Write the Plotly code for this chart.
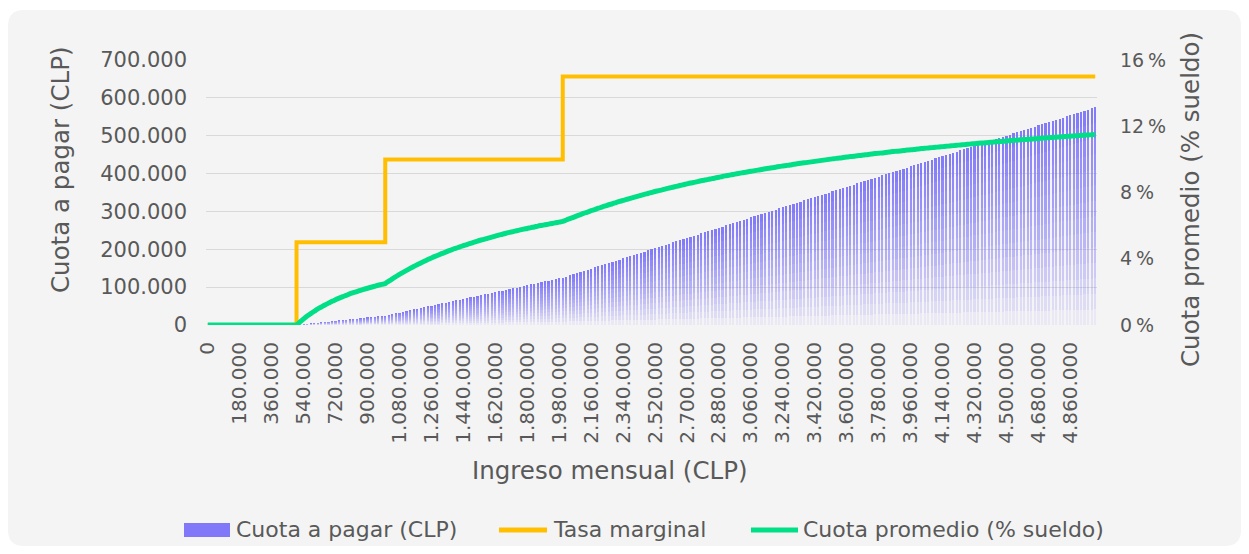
import plotly.graph_objects as go

# ---------------- data ----------------
ingreso = list(range(0, 5_000_001, 20_000))  # categories (CLP)

cuota = (
    [0] * 26
    + [1000, 2000, 3000, 4000, 5000, 6000, 7000, 8000, 9000, 10000,
       11000, 12000, 13000, 14000, 15000, 16000, 17000, 18000, 19000, 20000,
       21000, 22000, 23000, 24000, 25000]
    + [27000, 29000, 31000, 33000, 35000, 37000, 39000, 41000, 43000, 45000,
       47000, 49000, 51000, 53000, 55000, 57000, 59000, 61000, 63000, 65000,
       67000, 69000, 71000, 73000, 75000, 77000, 79000, 81000, 83000, 85000,
       87000, 89000, 91000, 93000, 95000, 97000, 99000, 101000, 103000, 105000,
       107000, 109000, 111000, 113000, 115000, 117000, 119000, 121000, 123000, 125000]
    + [128000, 131000, 134000, 137000, 140000, 143000, 146000, 149000, 152000, 155000,
       158000, 161000, 164000, 167000, 170000, 173000, 176000, 179000, 182000, 185000,
       188000, 191000, 194000, 197000, 200000, 203000, 206000, 209000, 212000, 215000,
       218000, 221000, 224000, 227000, 230000, 233000, 236000, 239000, 242000, 245000,
       248000, 251000, 254000, 257000, 260000, 263000, 266000, 269000, 272000, 275000,
       278000, 281000, 284000, 287000, 290000, 293000, 296000, 299000, 302000, 305000,
       308000, 311000, 314000, 317000, 320000, 323000, 326000, 329000, 332000, 335000,
       338000, 341000, 344000, 347000, 350000, 353000, 356000, 359000, 362000, 365000,
       368000, 371000, 374000, 377000, 380000, 383000, 386000, 389000, 392000, 395000,
       398000, 401000, 404000, 407000, 410000, 413000, 416000, 419000, 422000, 425000,
       428000, 431000, 434000, 437000, 440000, 443000, 446000, 449000, 452000, 455000,
       458000, 461000, 464000, 467000, 470000, 473000, 476000, 479000, 482000, 485000,
       488000, 491000, 494000, 497000, 500000, 503000, 506000, 509000, 512000, 515000,
       518000, 521000, 524000, 527000, 530000, 533000, 536000, 539000, 542000, 545000,
       548000, 551000, 554000, 557000, 560000, 563000, 566000, 569000, 572000, 575000]
)

tasa_marginal = [0] * 26 + [5] * 25 + [10] * 50 + [15] * 150

cuota_promedio = (
    [0] * 26
    + [0.19, 0.37, 0.54, 0.69, 0.83, 0.97, 1.09, 1.21, 1.32, 1.43,
       1.53, 1.62, 1.71, 1.79, 1.88, 1.95, 2.02, 2.09, 2.16, 2.22,
       2.28, 2.34, 2.40, 2.45, 2.50]
    + [2.65, 2.79, 2.92, 3.06, 3.18, 3.30, 3.42, 3.53, 3.64, 3.75,
       3.85, 3.95, 4.05, 4.14, 4.23, 4.32, 4.40, 4.49, 4.57, 4.64,
       4.72, 4.79, 4.86, 4.93, 5.00, 5.07, 5.13, 5.19, 5.25, 5.31,
       5.37, 5.43, 5.48, 5.54, 5.59, 5.64, 5.69, 5.74, 5.79, 5.83,
       5.88, 5.92, 5.97, 6.01, 6.05, 6.09, 6.13, 6.17, 6.21, 6.25]
    + [6.34, 6.42, 6.50, 6.59, 6.67, 6.75, 6.82, 6.90, 6.97, 7.05,
       7.12, 7.19, 7.26, 7.32, 7.39, 7.46, 7.52, 7.58, 7.65, 7.71,
       7.77, 7.83, 7.89, 7.94, 8.00, 8.06, 8.11, 8.16, 8.22, 8.27,
       8.32, 8.37, 8.42, 8.47, 8.52, 8.57, 8.61, 8.66, 8.71, 8.75,
       8.79, 8.84, 8.88, 8.92, 8.97, 9.01, 9.05, 9.09, 9.13, 9.17,
       9.21, 9.24, 9.28, 9.32, 9.35, 9.39, 9.43, 9.46, 9.50, 9.53,
       9.57, 9.60, 9.63, 9.66, 9.70, 9.73, 9.76, 9.79, 9.82, 9.85,
       9.88, 9.91, 9.94, 9.97, 10.00, 10.03, 10.06, 10.08, 10.11, 10.14,
       10.17, 10.19, 10.22, 10.24, 10.27, 10.30, 10.32, 10.35, 10.37, 10.39,
       10.42, 10.44, 10.47, 10.49, 10.51, 10.54, 10.56, 10.58, 10.60, 10.63,
       10.65, 10.67, 10.69, 10.71, 10.73, 10.75, 10.77, 10.79, 10.81, 10.83,
       10.85, 10.87, 10.89, 10.91, 10.93, 10.95, 10.97, 10.99, 11.00, 11.02,
       11.04, 11.06, 11.08, 11.09, 11.11, 11.13, 11.15, 11.16, 11.18, 11.20,
       11.21, 11.23, 11.24, 11.26, 11.28, 11.29, 11.31, 11.32, 11.34, 11.35,
       11.37, 11.38, 11.40, 11.41, 11.43, 11.44, 11.46, 11.47, 11.49, 11.50]
)

x_tick_vals = list(range(0, 4_860_001, 180_000))
series_names = ["Cuota a pagar (CLP)", "Tasa marginal", "Cuota promedio (% sueldo)"]
x_title = "Ingreso mensual (CLP)"
y_title = "Cuota a pagar (CLP)"
y2_title = "Cuota promedio (% sueldo)"

assert len(ingreso) == len(cuota) == len(tasa_marginal) == len(cuota_promedio) == 251

# ---------------- style ----------------
# page body has an 8px margin, so the figure is 16px smaller than the window
W, H = 1233, 538
L, T = 198, 52
PLOT_RIGHT, PLOT_BOTTOM = 1089, 317
R, B = W - PLOT_RIGHT, H - PLOT_BOTTOM
PW, PH = W - L - R, H - T - B

BAR_RGB = (128, 120, 248)
BAR_SOLID = "rgb(128,120,248)"
YELLOW = "#FFBF00"
GREEN = "#00DF85"
TXT = "#595959"
GRID = "#D9D9D9"
FONT = "DejaVu Sans"
TITLE_SIZE = 24.5

fig = go.Figure()

# gradient bars: each bar split into stacked slices with growing opacity
N = 14
for j in range(N):
    a = 0.03 + 0.97 * ((j + 0.5) / N) ** 0.8
    top = j == N - 1
    fig.add_trace(go.Bar(
        x=ingreso,
        y=[c / N for c in cuota],
        marker=dict(color=f"rgba({BAR_RGB[0]},{BAR_RGB[1]},{BAR_RGB[2]},{a:.3f})",
                    line=dict(width=0)),
        name=series_names[0],
        showlegend=False,
        hoverinfo="skip" if not top else None,
    ))

fig.add_trace(go.Scatter(
    x=ingreso, y=tasa_marginal, yaxis="y2", mode="lines",
    line=dict(color=YELLOW, width=4, shape="vh"),
    name=series_names[1], showlegend=False,
))
fig.add_trace(go.Scatter(
    x=ingreso, y=cuota_promedio, yaxis="y2", mode="lines",
    line=dict(color=GREEN, width=5, shape="spline", smoothing=0.6),
    name=series_names[2], showlegend=False,
))


def px(x):
    return (x - L) / PW


def py(y):
    return (H - B - y) / PH


x0, y0, x1, y1, r = 0, 2, 1233, 538, 16
path = (
    f"M {px(x0 + r)},{py(y0)} L {px(x1 - r)},{py(y0)} "
    f"Q {px(x1)},{py(y0)} {px(x1)},{py(y0 + r)} "
    f"L {px(x1)},{py(y1 - r)} Q {px(x1)},{py(y1)} {px(x1 - r)},{py(y1)} "
    f"L {px(x0 + r)},{py(y1)} Q {px(x0)},{py(y1)} {px(x0)},{py(y1 - r)} "
    f"L {px(x0)},{py(y0 + r)} Q {px(x0)},{py(y0)} {px(x0 + r)},{py(y0)} Z"
)
shapes = [dict(type="path", path=path, xref="paper", yref="paper",
               fillcolor="#F4F4F4", line=dict(width=0), layer="below")]

# custom legend (symbols + labels)
LEG_Y = 522
LEG_FONT = 22
shapes += [
    dict(type="rect", xref="paper", yref="paper",
         x0=px(176), x1=px(222), y0=py(LEG_Y - 7), y1=py(LEG_Y + 7),
         fillcolor=BAR_SOLID, line=dict(width=0)),
    dict(type="line", xref="paper", yref="paper",
         x0=px(491), x1=px(539), y0=py(LEG_Y), y1=py(LEG_Y),
         line=dict(color=YELLOW, width=5)),
    dict(type="line", xref="paper", yref="paper",
         x0=px(743), x1=px(790), y0=py(LEG_Y), y1=py(LEG_Y),
         line=dict(color=GREEN, width=5)),
]
annotations = [
    dict(text=name, x=px(xl), y=py(LEG_Y - 1), xref="paper", yref="paper",
         xanchor="left", yanchor="middle", showarrow=False,
         font=dict(family=FONT, size=LEG_FONT, color=TXT))
    for name, xl in zip(series_names, [226, 543, 793])
]

# axis titles (placed as in the reference, not centred on the plot)
title_font = dict(family=FONT, size=TITLE_SIZE, color=TXT)
annotations += [
    dict(text=x_title, x=px(601), y=py(462), xref="paper", yref="paper",
         xanchor="center", yanchor="middle", showarrow=False, font=title_font),
    dict(text=y_title, x=px(52), y=py(162), xref="paper", yref="paper",
         xanchor="center", yanchor="middle", showarrow=False, textangle=-90,
         font=title_font),
    dict(text=y2_title, x=px(1182), y=py(192), xref="paper", yref="paper",
         xanchor="center", yanchor="middle", showarrow=False, textangle=-90,
         font=title_font),
]

fig.update_layout(
    width=W, height=H,
    margin=dict(l=L, r=R, t=T, b=B, pad=0),
    paper_bgcolor="white",
    plot_bgcolor="rgba(0,0,0,0)",
    separators=",.",
    barmode="stack",
    bargap=0.38,
    showlegend=False,
    shapes=shapes,
    annotations=annotations,
    font=dict(family=FONT, color=TXT),
    xaxis=dict(
        range=[-10000, 5010000],
        tickmode="array", tickvals=x_tick_vals, tickformat=",d",
        tickangle=-90, ticks="", showgrid=False, zeroline=False, showline=False,
        tickfont=dict(family=FONT, size=20, color=TXT),
        ticklabelstandoff=12,
    ),
    yaxis=dict(
        range=[0, 700000], dtick=100000, tickformat=",d",
        showgrid=True, gridcolor=GRID, gridwidth=1.3, zeroline=False,
        ticks="", tickfont=dict(family=FONT, size=21, color=TXT),
        ticklabelstandoff=18,
    ),
    yaxis2=dict(
        overlaying="y", side="right", range=[0, 16], dtick=4, ticksuffix="\u2009%",
        showgrid=False, zeroline=False, ticks="",
        tickfont=dict(family=FONT, size=19, color=TXT),
        ticklabelstandoff=22,
    ),
    hovermode="x",
)

fig.write_html("out.html")
